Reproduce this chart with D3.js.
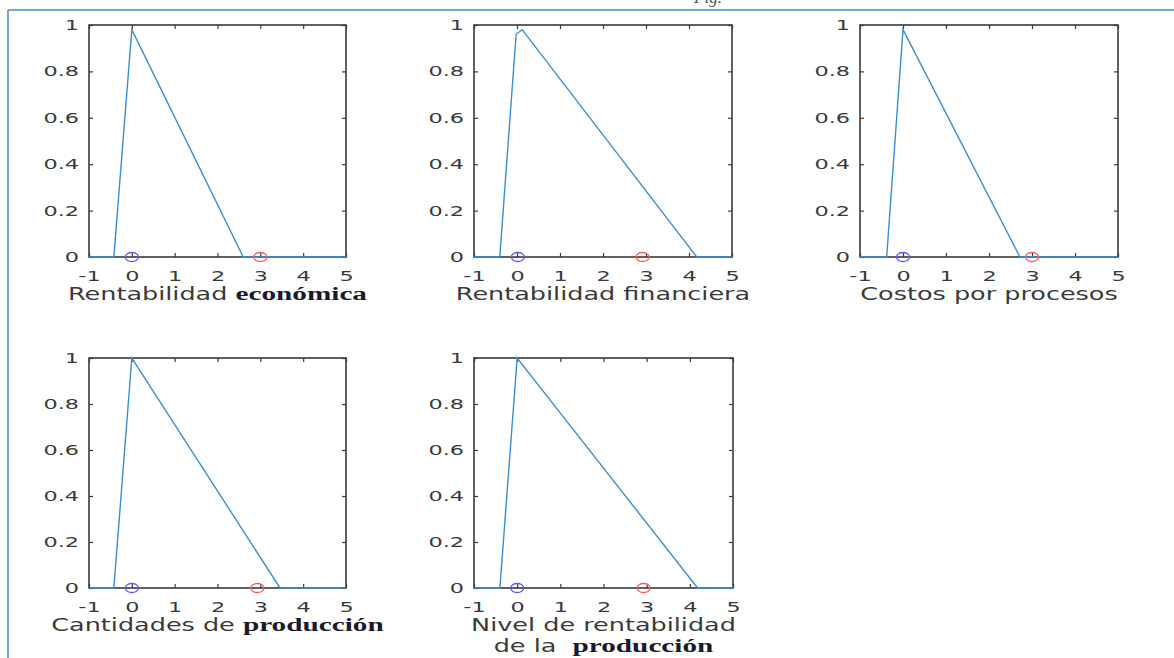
<!DOCTYPE html>
<html>
<head>
<meta charset="utf-8">
<script src="https://cdn.jsdelivr.net/npm/d3@7"></script>
<style>
  body { margin: 0; background: #fff; }
  svg { display: block; }
</style>
</head>
<body>
<div id="container"></div>
<script>
// Chart size
const width = 1174;
const height = 658;

// Data
const titles = [
  [[["Rentabilidad ", "sans"], ["económica", "serif"]]],
  [[["Rentabilidad financiera", "sans"]]],
  [[["Costos por procesos", "sans"]]],
  [[["Cantidades de ", "sans"], ["producción", "serif"]]],
  [[["Nivel de rentabilidad", "sans"]], [["de la  ", "sans"], ["producción", "serif"]]]
];
const curveX = [
  [-1, -0.42, 0, 2.6, 5],
  [-1, -0.4, -0.02, 0.12, 4.18, 5],
  [-1, -0.38, 0, 2.72, 5],
  [-1, -0.42, 0, 3.46, 5],
  [-1, -0.4, 0, 4.18, 5]
];
const curveY = [
  [0, 0, 0.98, 0, 0],
  [0, 0, 0.96, 0.98, 0, 0],
  [0, 0, 0.98, 0, 0],
  [0, 0, 1, 0, 0],
  [0, 0, 1, 0, 0]
];
const blueMark = [0, 0.02, 0, 0, 0];
const redMark = [3, 2.92, 3, 2.93, 2.93];
const xTicks = [-1, 0, 1, 2, 3, 4, 5];
const yTicks = [0, 0.2, 0.4, 0.6, 0.8, 1];

// Panel placement
const panels = [
  {left: 89, right: 346, top: 25, bottom: 257},
  {left: 474, right: 732, top: 25, bottom: 257},
  {left: 860, right: 1118, top: 25, bottom: 257},
  {left: 89, right: 346, top: 358, bottom: 588},
  {left: 474, right: 733, top: 358, bottom: 588}
];

const stretch = 1.5;     // the picture is stretched horizontally
const tickStretch = 1.6;
const textCol = "#3a3a3a";
const lineCol = "#3a8fd2";

const svg = d3.select("#container").append("svg")
  .attr("width", width)
  .attr("height", height);

// Frame lines
svg.append("line")
  .attr("x1", 8).attr("x2", width).attr("y1", 10).attr("y2", 10)
  .attr("stroke", "#6fa6dc").attr("stroke-width", 2);
svg.append("line")
  .attr("x1", 8).attr("x2", 8).attr("y1", 10).attr("y2", height)
  .attr("stroke", "#6fa6dc").attr("stroke-width", 2);
svg.append("text")
  .attr("x", 708).attr("y", 3)
  .attr("text-anchor", "middle")
  .attr("font-family", "Liberation Serif")
  .attr("font-style", "italic")
  .attr("font-size", 17)
  .attr("fill", "#555")
  .text("Fig.");

panels.forEach((p, i) => {
  const x = d3.scaleLinear().domain([-1, 5]).range([p.left, p.right]);
  const y = d3.scaleLinear().domain([0, 1]).range([p.bottom, p.top]);
  const g = svg.append("g");

  const styleAxis = sel => {
    sel.select(".domain").remove();
    sel.selectAll(".tick line").attr("stroke", textCol).attr("stroke-width", 1.2);
    sel.selectAll(".tick text")
      .attr("fill", textCol)
      .attr("font-family", "DejaVu Sans")
      .attr("font-size", 14);
  };

  // Bottom axis
  const gx = g.append("g")
    .attr("transform", `translate(0,${p.bottom})`)
    .call(d3.axisBottom(x).tickValues(xTicks).tickFormat(d => String(d))
      .tickSizeInner(-4).tickSizeOuter(0).tickPadding(14));
  styleAxis(gx);
  gx.selectAll(".tick text").attr("transform", `scale(${tickStretch},1)`);

  // Left axis
  const gy = g.append("g")
    .attr("transform", `translate(${p.left},0)`)
    .call(d3.axisLeft(y).tickValues(yTicks).tickFormat(d => String(d))
      .tickSizeInner(-4).tickSizeOuter(0));
  styleAxis(gy);
  gy.selectAll(".tick text")
    .attr("x", -10 / tickStretch)
    .attr("transform", `scale(${tickStretch},1)`);

  // Top and right ticks
  const gt = g.append("g")
    .attr("transform", `translate(0,${p.top})`)
    .call(d3.axisTop(x).tickValues(xTicks).tickFormat("").tickSizeInner(-4).tickSizeOuter(0));
  styleAxis(gt);
  const gr = g.append("g")
    .attr("transform", `translate(${p.right},0)`)
    .call(d3.axisRight(y).tickValues(yTicks).tickFormat("").tickSizeInner(-4).tickSizeOuter(0));
  styleAxis(gr);

  // Box
  g.append("rect")
    .attr("x", p.left).attr("y", p.top)
    .attr("width", p.right - p.left).attr("height", p.bottom - p.top)
    .attr("fill", "none")
    .attr("stroke", textCol)
    .attr("stroke-width", 1.6);

  // Membership curve
  const pts = curveX[i].map((d, j) => [d, curveY[i][j]]);
  g.append("path")
    .attr("fill", "none")
    .attr("stroke", lineCol)
    .attr("stroke-width", 1.4)
    .attr("d", d3.line().x(d => x(d[0])).y(d => y(d[1]))(pts));

  // Markers
  g.append("ellipse")
    .attr("cx", x(blueMark[i])).attr("cy", y(0))
    .attr("rx", 6.5).attr("ry", 4.5)
    .attr("fill", "none").attr("stroke", "#5a5aff").attr("stroke-width", 1.3);
  g.append("ellipse")
    .attr("cx", x(redMark[i])).attr("cy", y(0))
    .attr("rx", 6.5).attr("ry", 4.5)
    .attr("fill", "none").attr("stroke", "#ff5a5a").attr("stroke-width", 1.3);

  // Axis label
  const cx = (p.left + p.right) / 2;
  titles[i].forEach((line, k) => {
    const t = g.append("text")
      .attr("transform", `translate(${cx},${p.bottom + 43 + k * 21}) scale(${stretch},1)`)
      .attr("text-anchor", "middle")
      .attr("xml:space", "preserve");
    line.forEach(seg => {
      const s = t.append("tspan").text(seg[0]);
      if (seg[1] === "serif") {
        s.attr("font-family", "Liberation Serif")
          .attr("font-weight", "bold")
          .attr("font-size", 19.5)
          .attr("fill", "#1a1a2a");
      } else {
        s.attr("font-family", "DejaVu Sans")
          .attr("font-size", 17)
          .attr("fill", textCol);
      }
    });
  });
});
</script>
</body>
</html>
